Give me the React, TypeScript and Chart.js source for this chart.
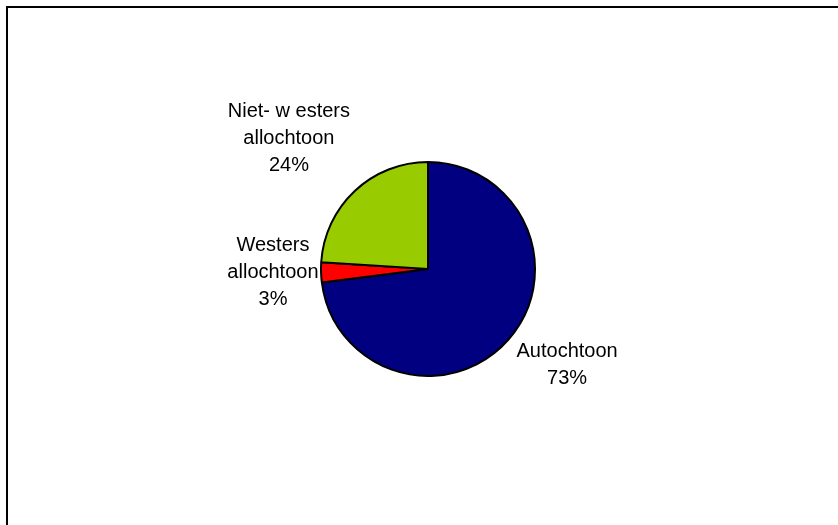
import React, { useEffect, useRef } from "react";
import { Chart, registerables } from "chart.js";

Chart.register(...registerables);

// ---- data ----
const categories = ["Autochtoon", "Westers allochtoon", "Niet- w esters allochtoon"];
const labelLines = [["Autochtoon"], ["Westers", "allochtoon"], ["Niet- w esters", "allochtoon"]];
const values = [73, 3, 24];

// ---- styles / layout ----
const sliceColors = ["#000080", "#FF0000", "#99CC00"];
// label anchor (center x, first baseline) relative to pie center, in units of radius
const labelOffsets = [
  [1.3, 0.82],
  [-1.449, -0.168],
  [-1.3, -1.42],
];
const FONT = "20px 'Liberation Sans', Arial, sans-serif";
const LINE_H = 27;

const labelPlugin = {
  id: "excelLabels",
  beforeDraw(chart: any) {
    const ctx = chart.ctx;
    ctx.save();
    ctx.fillStyle = "#ffffff";
    ctx.fillRect(0, 0, chart.width, chart.height);
    ctx.fillStyle = "#000000";
    ctx.fillRect(6, 6, chart.width - 6, 2);
    ctx.fillRect(6, 6, 2, chart.height - 6);
    ctx.restore();
  },
  afterDraw(chart: any) {
    const meta = chart.getDatasetMeta(0);
    const arc0 = meta.data[0];
    if (!arc0) return;
    const { x, y, outerRadius } = arc0.getProps(["x", "y", "outerRadius"], true);
    const ctx = chart.ctx;
    ctx.save();
    ctx.font = FONT;
    ctx.fillStyle = "#000000";
    ctx.textAlign = "center";
    ctx.textBaseline = "alphabetic";
    values.forEach((v, i) => {
      const cx = x + labelOffsets[i][0] * outerRadius;
      const by = y + labelOffsets[i][1] * outerRadius;
      const lines = [...labelLines[i], `${v}%`];
      lines.forEach((t, j) => ctx.fillText(t, cx, by + j * LINE_H));
    });
    ctx.restore();
  },
};

export default function App() {
  const ref = useRef<HTMLCanvasElement | null>(null);
  useEffect(() => {
    if (!ref.current) return;
    const chart = new Chart(ref.current, {
      type: "pie",
      data: {
        labels: categories,
        datasets: [
          {
            data: values,
            backgroundColor: sliceColors,
            borderColor: "#000000",
            borderWidth: 2,
          },
        ],
      },
      options: {
        responsive: false,
        animation: false,
        devicePixelRatio: 1,
        layout: { padding: { left: 320, right: 302, top: 161, bottom: 148 } },
        plugins: {
          legend: { display: false },
          tooltip: { enabled: false },
        },
      },
      plugins: [labelPlugin],
    });
    return () => chart.destroy();
  }, []);
  return (
    <div style={{ position: "fixed", left: 0, top: 0, width: 838, height: 525, background: "#fff" }}>
      <canvas ref={ref} width={838} height={525} style={{ display: "block" }} />
    </div>
  );
}
